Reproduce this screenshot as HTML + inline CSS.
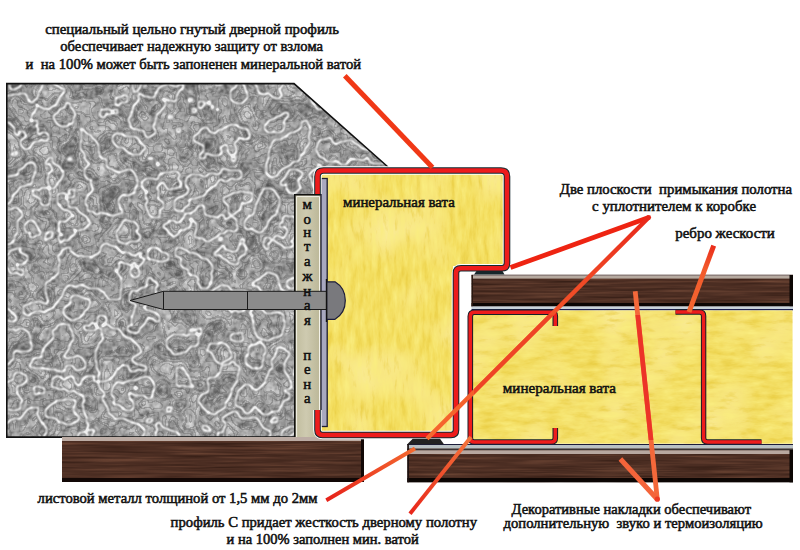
<!DOCTYPE html>
<html><head><meta charset="utf-8">
<style>
html,body{margin:0;padding:0;background:#fff;width:800px;height:550px;overflow:hidden}
svg{display:block}
text{font-family:"Liberation Serif",serif;font-weight:normal;font-size:14.8px;fill:#101010;stroke:#101010;stroke-width:0.55px}
</style></head>
<body>
<svg width="800" height="550" viewBox="0 0 800 550">
<defs>
  <filter id="concrete" x="0" y="0" width="100%" height="100%" color-interpolation-filters="sRGB">
  <feTurbulence type="fractalNoise" baseFrequency="0.024" numOctaves="5" seed="11" result="n"/>
  <feColorMatrix in="n" type="matrix" values="1 0 0 0 0  1 0 0 0 0  1 0 0 0 0  0 0 0 0 1" result="g0"/>
  <feGaussianBlur in="g0" stdDeviation="0.9" result="g"/>
  <feComponentTransfer in="g" result="bands">
    <feFuncR type="discrete" tableValues="0 0 0 0 0 0 0 1 1 1 1 0 0 0 0 0 0"/>
    <feFuncG type="discrete" tableValues="0 0 0 0 0 0 0 1 1 1 1 0 0 0 0 0 0"/>
    <feFuncB type="discrete" tableValues="0 0 0 0 0 0 0 1 1 1 1 0 0 0 0 0 0"/>
  </feComponentTransfer>
  <feTurbulence type="fractalNoise" baseFrequency="0.032" numOctaves="5" seed="23" result="m"/>
  <feColorMatrix in="m" type="matrix" values="1 0 0 0 0  1 0 0 0 0  1 0 0 0 0  0 0 0 0 1" result="gm0"/>
  <feGaussianBlur in="gm0" stdDeviation="0.9" result="gm"/>
  <feComponentTransfer in="gm" result="bands2">
    <feFuncR type="discrete" tableValues="0 0 0 0 0 0 0 0 1 1 1 1 1 1 1 1"/>
    <feFuncG type="discrete" tableValues="0 0 0 0 0 0 0 0 1 1 1 1 1 1 1 1"/>
    <feFuncB type="discrete" tableValues="0 0 0 0 0 0 0 0 1 1 1 1 1 1 1 1"/>
  </feComponentTransfer>
  <feConvolveMatrix in="bands" order="3" kernelMatrix="-1 -1 -1 -1 8 -1 -1 -1 -1" preserveAlpha="true" result="e1"/>
  <feConvolveMatrix in="bands2" order="3" kernelMatrix="-1 -1 -1 -1 8 -1 -1 -1 -1" preserveAlpha="true" result="e2"/>
  <feComposite in="e1" in2="e2" operator="arithmetic" k2="1" k3="0.35" result="edges"/>
  <feGaussianBlur in="edges" stdDeviation="0.8" result="eb"/>
  <feGaussianBlur in="edges" stdDeviation="1.4" result="eb2"/>
  <feColorMatrix in="eb" type="matrix" values="0 0 0 0 0.94  0 0 0 0 0.94  0 0 0 0 0.94  2.0 0 0 0 0" result="veins"/>
  <feColorMatrix in="eb2" type="matrix" values="0 0 0 0 0.18  0 0 0 0 0.18  0 0 0 0 0.18  2.2 0 0 0 0" result="halo"/>
  <feTurbulence type="fractalNoise" baseFrequency="0.05" numOctaves="2" seed="4" result="n2"/>
  <feTurbulence type="fractalNoise" baseFrequency="0.18" numOctaves="2" seed="9" result="n3"/>
  <feComposite in="n2" in2="n3" operator="arithmetic" k2="0.5" k3="0.5" result="n23"/>
  <feColorMatrix in="n23" type="matrix" values="1 0 0 0 0  1 0 0 0 0  1 0 0 0 0  0 0 0 0 1" result="g2"/>
  <feComponentTransfer in="g2" result="base">
    <feFuncR type="table" tableValues="0.18 0.26 0.36 0.5 0.64 0.76 0.86 0.94 0.97"/>
    <feFuncG type="table" tableValues="0.18 0.26 0.36 0.5 0.64 0.76 0.86 0.94 0.97"/>
    <feFuncB type="table" tableValues="0.18 0.26 0.36 0.5 0.64 0.76 0.86 0.94 0.97"/>
  </feComponentTransfer>
  <feColorMatrix in="n2" type="matrix" values="1 0 0 0 0  1 0 0 0 0  1 0 0 0 0  0 0 0 0 1" result="gp0"/>
  <feGaussianBlur in="gp0" stdDeviation="1" result="gp"/>
  <feComponentTransfer in="gp" result="post">
    <feFuncR type="discrete" tableValues="0 0 0 0 1 0 1 0 1 0 1 1 1 1"/>
    <feFuncG type="discrete" tableValues="0 0 0 0 1 0 1 0 1 0 1 1 1 1"/>
    <feFuncB type="discrete" tableValues="0 0 0 0 1 0 1 0 1 0 1 1 1 1"/>
  </feComponentTransfer>
  <feConvolveMatrix in="post" order="3" kernelMatrix="-1 -1 -1 -1 8 -1 -1 -1 -1" preserveAlpha="true" result="pe"/>
  <feGaussianBlur in="pe" stdDeviation="0.5" result="peb"/>
  <feColorMatrix in="peb" type="matrix" values="0 0 0 0 0.3  0 0 0 0 0.3  0 0 0 0 0.3  0.3 0 0 0 0" result="plines"/>
  <feComposite in="plines" in2="base" operator="over" result="b1"/>
  <feComposite in="halo" in2="b1" operator="over" result="b2"/>
  <feComposite in="veins" in2="b2" operator="over" result="all"/>
  <feComposite in="all" in2="SourceGraphic" operator="in"/>
</filter>
  <filter id="wool" x="0" y="0" width="100%" height="100%" color-interpolation-filters="sRGB">
    <feTurbulence type="fractalNoise" baseFrequency="0.18 0.045" numOctaves="4" seed="3" result="n"/>
    <feTurbulence type="fractalNoise" baseFrequency="0.02" numOctaves="2" seed="8" result="big"/>
    <feColorMatrix in="n" type="matrix" values="0 0 0 0 0.98  0 0 0 0 0.93  0 0 0 0 0.5  2.0 0 0 0 -0.85" result="hi"/>
    <feColorMatrix in="n" type="matrix" values="0 0 0 0 0.9  0 0 0 0 0.78  0 0 0 0 0.22  -2.0 0 0 0 0.85" result="lo"/>
    <feColorMatrix in="big" type="matrix" values="0 0 0 0 0.99  0 0 0 0 0.94  0 0 0 0 0.65  1.8 0 0 0 -0.75" result="bighi"/>
    <feMerge><feMergeNode in="SourceGraphic"/><feMergeNode in="bighi"/><feMergeNode in="hi"/><feMergeNode in="lo"/></feMerge>
    <feComposite in2="SourceGraphic" operator="in"/>
  </filter>
  <filter id="wool2" x="0" y="0" width="100%" height="100%" color-interpolation-filters="sRGB">
    <feTurbulence type="fractalNoise" baseFrequency="0.05 0.16" numOctaves="4" seed="12" result="n"/>
    <feTurbulence type="fractalNoise" baseFrequency="0.02" numOctaves="2" seed="17" result="big"/>
    <feColorMatrix in="n" type="matrix" values="0 0 0 0 0.98  0 0 0 0 0.93  0 0 0 0 0.5  2.0 0 0 0 -0.85" result="hi"/>
    <feColorMatrix in="n" type="matrix" values="0 0 0 0 0.9  0 0 0 0 0.78  0 0 0 0 0.22  -2.0 0 0 0 0.85" result="lo"/>
    <feColorMatrix in="big" type="matrix" values="0 0 0 0 0.99  0 0 0 0 0.94  0 0 0 0 0.65  1.8 0 0 0 -0.75" result="bighi"/>
    <feMerge><feMergeNode in="SourceGraphic"/><feMergeNode in="bighi"/><feMergeNode in="hi"/><feMergeNode in="lo"/></feMerge>
    <feComposite in2="SourceGraphic" operator="in"/>
  </filter>
  <filter id="wood" x="0" y="0" width="100%" height="100%" color-interpolation-filters="sRGB">
    <feTurbulence type="fractalNoise" baseFrequency="0.012 0.42" numOctaves="3" seed="5" result="n"/>
    <feColorMatrix in="n" type="matrix" values="0 0 0 0 0.44  0 0 0 0 0.28  0 0 0 0 0.21  2.2 0 0 0 -1.05" result="hi"/>
    <feColorMatrix in="n" type="matrix" values="0 0 0 0 0.17  0 0 0 0 0.09  0 0 0 0 0.06  -2.2 0 0 0 0.95" result="lo"/>
    <feMerge><feMergeNode in="SourceGraphic"/><feMergeNode in="hi"/><feMergeNode in="lo"/></feMerge>
    <feComposite in2="SourceGraphic" operator="in"/>
  </filter>
  <linearGradient id="foam" x1="0" y1="0" x2="1" y2="0">
    <stop offset="0" stop-color="#bfbb9c"/>
    <stop offset="0.45" stop-color="#cecab0"/>
    <stop offset="1" stop-color="#bab696"/>
  </linearGradient>
</defs>

<!-- concrete -->
<polygon points="6,83 294,83 390,169 390,194 294,194 294,437 6,437" fill="#999" filter="url(#concrete)"/>
<polyline points="6.8,437 6.8,83.6 294,83.6 388,167" fill="none" stroke="#111" stroke-width="1.6"/>
<line x1="6" y1="437.2" x2="294" y2="437.2" stroke="#111" stroke-width="1.8"/>

<!-- foam box -->
<rect x="294" y="194" width="27" height="243.5" fill="url(#foam)"/>
<path d="M294.8,437.5 V194.8 H321" fill="none" stroke="#111" stroke-width="1.6"/>
<path d="M296.6,437 V196.6 H319.5 V437" fill="none" stroke="#f4f2e8" stroke-width="1"/>

<!-- bottom-left brown bar -->
<rect x="62" y="437" width="302" height="45" fill="#4b2d22" filter="url(#wood)"/>
<rect x="62" y="437" width="302" height="4" fill="#bcaca4"/>
<rect x="62" y="478" width="302" height="4" fill="#120806"/>
<rect x="361" y="437" width="3" height="45" fill="#120806"/>

<!-- frame wool -->
<polygon points="321,174 504,174 504,266 453,266 453,432 321,432" fill="#f3dd5e" filter="url(#wool)"/>
<!-- grey strip -->
<rect x="321" y="178.5" width="6.2" height="248" fill="#a8a8bf" stroke="#1e1e30" stroke-width="1.3"/>

<!-- frame profile -->
<path d="M317.5,194 V176.5 Q317.5,170.5 323.5,170.5 H501 Q507,170.5 507,176.5 V263 Q507,268.3 502,268.3 H461 Q456,268.3 456,273 V430 Q456,435 451,435 H322.5 Q317.5,435 317.5,430 V410" fill="none" stroke="#fff" stroke-width="8.5" stroke-linejoin="round"/>
<path d="M317.5,194 V176.5 Q317.5,170.5 323.5,170.5 H501 Q507,170.5 507,176.5 V263 Q507,268.3 502,268.3 H461 Q456,268.3 456,273 V430 Q456,435 451,435 H322.5 Q317.5,435 317.5,430 V410" fill="none" stroke="#142a30" stroke-width="6.6" stroke-linejoin="round"/>
<path d="M317.5,194 V176.5 Q317.5,170.5 323.5,170.5 H501 Q507,170.5 507,176.5 V263 Q507,268.3 502,268.3 H461 Q456,268.3 456,273 V430 Q456,435 451,435 H322.5 Q317.5,435 317.5,430 V410" fill="none" stroke="#ee1c1c" stroke-width="4.6" stroke-linejoin="round"/>

<!-- nail -->
<path d="M130,300.5 L163.5,291.3 H326.7 V309.5 H163.5 Z" fill="#8b8b8b" stroke="#1a1a1a" stroke-width="1"/>
<line x1="163.5" y1="291.3" x2="163.5" y2="309.5" stroke="#1a1a1a" stroke-width="1"/>
<line x1="247.5" y1="291.3" x2="247.5" y2="309.5" stroke="#1a1a1a" stroke-width="1"/>
<path d="M326.7,281.8 H335 Q345.3,288 345.3,300.5 Q345.3,313 335,319.3 H326.7 Z" fill="#79797d" stroke="#1c1c3a" stroke-width="1.2"/>
<line x1="326.5" y1="279" x2="326.5" y2="322" stroke="#111" stroke-width="1.4"/>

<!-- foam letters -->
<g text-anchor="middle" style="font-size:16px;stroke-width:0.5px">
<text x="307.3" y="208.5">м</text>
<text x="307.3" y="223.5">о</text>
<text x="307.3" y="237">н</text>
<text x="307.3" y="250.5">т</text>
<text x="307.3" y="265.5">а</text>
<text x="307.3" y="280.5">ж</text>
<text x="307.3" y="295.5">н</text>
<text x="307.3" y="310">а</text>
<text x="307.3" y="325">я</text>
<text x="307.3" y="360">п</text>
<text x="307.3" y="374">е</text>
<text x="307.3" y="388.5">н</text>
<text x="307.3" y="403">а</text>
</g>

<!-- top brown bar (door overlay) -->
<rect x="471.5" y="275" width="321.5" height="31.5" fill="#4b2d22" filter="url(#wood)"/>
<rect x="471.5" y="274.5" width="321.5" height="1.6" fill="#8e807c"/>
<rect x="471.5" y="276" width="321.5" height="2.6" fill="#b6aaa0"/>
<rect x="471.5" y="303" width="321.5" height="3.5" fill="#0c0604"/>
<rect x="789.5" y="275" width="3.5" height="31.5" fill="#0c0604"/>
<rect x="471.5" y="275" width="1.5" height="31.5" fill="#2a1810"/>
<rect x="471.5" y="306.5" width="321.5" height="2.6" fill="#c8d2da"/>
<rect x="471.5" y="309" width="321.5" height="1.4" fill="#1c2050"/>
<!-- top seal -->
<path d="M476.5,271 H502.5 L504.5,274.5 H474 Z" fill="#17262a"/>

<!-- door wool -->
<rect x="472" y="310.3" width="320.7" height="133.5" fill="#f2dc60" filter="url(#wool2)"/>

<!-- door C profile -->
<path d="M555.3,326 V316 Q555.3,312.3 551.5,312.3 H474.3 Q470.3,312.3 470.3,316.3 V438 Q470.3,442 474.3,442 H551.3 Q555.3,442 555.3,438 V428" fill="none" stroke="#15202a" stroke-width="5.6" stroke-linejoin="round"/>
<path d="M555.3,326 V316 Q555.3,312.3 551.5,312.3 H474.3 Q470.3,312.3 470.3,316.3 V438 Q470.3,442 474.3,442 H551.3 Q555.3,442 555.3,438 V428" fill="none" stroke="#ee1c1c" stroke-width="3.6" stroke-linejoin="round"/>
<!-- Z rib -->
<path d="M675.5,312 H699.6 Q703.6,312 703.6,316 V438 Q703.6,442 707.6,442 H761.5" fill="none" stroke="#15202a" stroke-width="5.4" stroke-linejoin="round"/>
<path d="M675.5,312 H699.6 Q703.6,312 703.6,316 V438 Q703.6,442 707.6,442 H761.5" fill="none" stroke="#ee1c1c" stroke-width="3.4" stroke-linejoin="round"/>

<!-- bottom right bar -->
<rect x="407.3" y="444.3" width="385.7" height="38" fill="#4b2d22" filter="url(#wood)"/>
<rect x="407.3" y="444" width="385.7" height="1" fill="#1c1c3a"/>
<rect x="407.3" y="445" width="385.7" height="3.7" fill="#b9c1c4"/>
<rect x="407.3" y="448.7" width="385.7" height="1.6" fill="#3a3434"/>
<rect x="407.3" y="450.3" width="385.7" height="3.7" fill="#b8a8a0"/>
<rect x="407.3" y="478" width="385.7" height="4.3" fill="#0c0604"/>
<rect x="789.5" y="450" width="3.5" height="32.3" fill="#0c0604"/>
<rect x="407.3" y="444" width="1.6" height="38.3" fill="#1a1010"/>
<!-- bottom seal -->
<path d="M412.7,438.7 H440 L444,444.3 H407.3 Z" fill="#222"/>

<!-- pointer lines -->
<defs>
  <linearGradient id="gl3" gradientUnits="userSpaceOnUse" x1="648.7" y1="217.5" x2="427" y2="438.7">
    <stop offset="0" stop-color="#e8281a"/><stop offset="0.3" stop-color="#f04a26"/><stop offset="1" stop-color="#f6682e"/>
  </linearGradient>
  <linearGradient id="gl5" gradientUnits="userSpaceOnUse" x1="326.3" y1="500.3" x2="415" y2="448.5">
    <stop offset="0" stop-color="#e6221a"/><stop offset="1" stop-color="#f46a30"/>
  </linearGradient>
  <linearGradient id="gl6" gradientUnits="userSpaceOnUse" x1="410" y1="513.7" x2="471" y2="437">
    <stop offset="0" stop-color="#e8261a"/><stop offset="1" stop-color="#f4763c"/>
  </linearGradient>
  <linearGradient id="gl4" gradientUnits="userSpaceOnUse" x1="713.7" y1="245.6" x2="689" y2="312">
    <stop offset="0" stop-color="#ea2c1a"/><stop offset="0.35" stop-color="#f25a2c"/><stop offset="1" stop-color="#f46630"/>
  </linearGradient>
  <clipPath id="yclip">
    <rect x="474" y="315" width="320" height="125"/>
  </clipPath>
</defs>
<g stroke-linecap="butt" fill="none">
<line x1="344.8" y1="75.7" x2="432.5" y2="167.4" stroke="#f03816" stroke-width="5"/>
<line x1="648.7" y1="217.5" x2="510.5" y2="267.6" stroke="#ee2412" stroke-width="4.8"/>
<line x1="648.7" y1="217.5" x2="427" y2="438.7" stroke="url(#gl3)" stroke-width="4.4"/>
<line x1="713.7" y1="245.6" x2="689" y2="312" stroke="url(#gl4)" stroke-width="5"/>
<line x1="326.3" y1="500.3" x2="415" y2="448.5" stroke="url(#gl5)" stroke-width="3.9"/>
<line x1="410" y1="513.7" x2="471" y2="437" stroke="url(#gl6)" stroke-width="3.9"/>
<line x1="657.3" y1="499.2" x2="635.2" y2="291.2" stroke="#f4683a" stroke-width="4.8"/>
<line x1="657.3" y1="499.2" x2="620.4" y2="459" stroke="#f4643a" stroke-width="5"/>
<g clip-path="url(#yclip)">
<line x1="648.7" y1="217.5" x2="427" y2="438.7" stroke="#ee4426" stroke-width="4"/>
<line x1="657.3" y1="499.2" x2="635.2" y2="291.2" stroke="#ec3428" stroke-width="4.6"/>
</g>
<circle cx="648.7" cy="217.5" r="2.4" fill="#e8281a"/>
<circle cx="657.3" cy="499.2" r="2.6" fill="#ec3a24"/>
</g>

<!-- labels -->
<text x="45.25" y="33.7" textLength="293.75" lengthAdjust="spacingAndGlyphs">специальный цельно гнутый дверной профиль</text>
<text x="60.25" y="51.2" textLength="262.75" lengthAdjust="spacingAndGlyphs">обеспечивает надежную защиту от взлома</text>
<text x="25.6" y="68.6" textLength="335.5" lengthAdjust="spacingAndGlyphs" xml:space="preserve">и  на 100% может быть запоненен минеральной ватой</text>
<text x="559.8" y="193.7" textLength="232.2" lengthAdjust="spacingAndGlyphs" xml:space="preserve">Две плоскости  примыкания полотна</text>
<text x="592.1" y="211.2" textLength="163.9" lengthAdjust="spacingAndGlyphs">с уплотнителем к коробке</text>
<text x="675.25" y="238.1" textLength="99.55" lengthAdjust="spacingAndGlyphs">ребро жескости</text>
<text x="343" y="206.9" textLength="111.8" lengthAdjust="spacingAndGlyphs">минеральная вата</text>
<text x="502.8" y="393" textLength="113.2" lengthAdjust="spacingAndGlyphs">минеральная вата</text>
<text x="37.6" y="503" textLength="279.9" lengthAdjust="spacingAndGlyphs">листовой металл толщиной от 1,5 мм до 2мм</text>
<text x="170.6" y="526.9" textLength="306.4" lengthAdjust="spacingAndGlyphs">профиль С придает жесткость дверному полотну</text>
<text x="226.6" y="543.9" textLength="192.1" lengthAdjust="spacingAndGlyphs">и на 100% заполнен мин. ватой</text>
<text x="511.6" y="513.6" textLength="239.4" lengthAdjust="spacingAndGlyphs">Декоративные накладки обеспечивают</text>
<text x="503.6" y="527.6" textLength="259.2" lengthAdjust="spacingAndGlyphs" xml:space="preserve">дополнительную  звуко и термоизоляцию</text>
</svg>
</body></html>
